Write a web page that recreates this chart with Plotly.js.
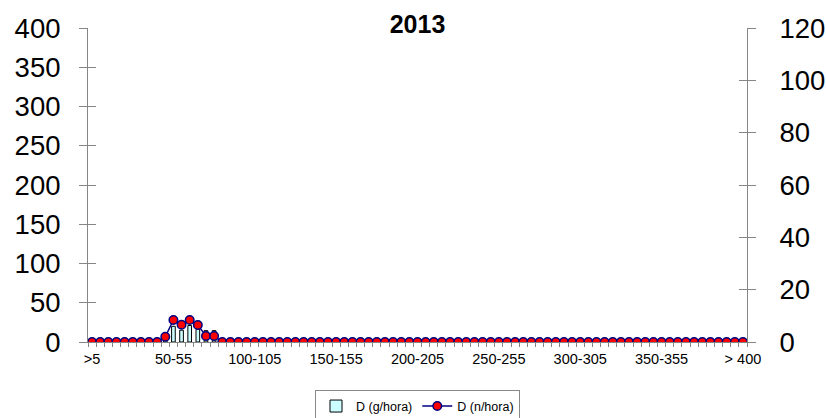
<!DOCTYPE html>
<html>
<head>
<meta charset="utf-8">
<script src="https://cdn.plot.ly/plotly-3.0.1.min.js"></script>
<style>html,body{margin:0;padding:0;background:#fff;}#chart{width:826px;height:418px;}</style>
</head>
<body>
<div id="chart"></div>
<script>
var categories = [">5","5-10","10-15","15-20","20-25","25-30","30-35","35-40","40-45","45-50",
"50-55","55-60","60-65","65-70","70-75","75-80","80-85","85-90","90-95","95-100",
"100-105","105-110","110-115","115-120","120-125","125-130","130-135","135-140","140-145","145-150",
"150-155","155-160","160-165","165-170","170-175","175-180","180-185","185-190","190-195","195-200",
"200-205","205-210","210-215","215-220","220-225","225-230","230-235","235-240","240-245","245-250",
"250-255","255-260","260-265","265-270","270-275","275-280","280-285","285-290","290-295","295-300",
"300-305","305-310","310-315","315-320","320-325","325-330","330-335","335-340","340-345","345-350",
"350-355","355-360","360-365","365-370","370-375","375-380","380-385","385-390","390-395","395-400",
"> 400"];

var gHora = [0,0,0,0,0,0,0,0,0,5,
20,15,21,16,14.5,14.5,0,0,0,0,
0,0,0,0,0,0,0,0,0,0,
0,0,0,0,0,0,0,0,0,0,
0,0,0,0,0,0,0,0,0,0,
0,0,0,0,0,0,0,0,0,0,
0,0,0,0,0,0,0,0,0,0,
0,0,0,0,0,0,0,0,0,0,
0];

var nHora = [0,0,0,0,0,0,0,0,0,2,
8.4,6.6,8.4,6.5,2.3,2.3,0,0,0,0,
0,0,0,0,0,0,0,0,0,0,
0,0,0,0,0,0,0,0,0,0,
0,0,0,0,0,0,0,0,0,0,
0,0,0,0,0,0,0,0,0,0,
0,0,0,0,0,0,0,0,0,0,
0,0,0,0,0,0,0,0,0,0,
0];

var shownLabels = [">5","50-55","100-105","150-155","200-205","250-255","300-305","350-355","> 400"];
var seriesNames = ["D (g/hora)", "D (n/hora)"];
var titleText = "2013";

var tickText = categories.map(function(c){ return shownLabels.indexOf(c) >= 0 ? c : ""; });
var FONT = "Liberation Sans, Arial, sans-serif";
var AX = "#868686";

var traces = [
  {
    type: "bar", x: categories, y: gHora, name: seriesNames[0], yaxis: "y",
    marker: {color: "#CCFFFF", line: {color: "#000000", width: 1}},
    hoverinfo: "skip"
  },
  {
    type: "scatter", mode: "lines+markers", x: categories, y: nHora, name: seriesNames[1], yaxis: "y2",
    line: {color: "#000080", width: 1.5},
    marker: {color: "#FF0000", size: 8.5, line: {color: "#000080", width: 1.5}},
    hoverinfo: "skip"
  },
  /* empty helper traces so the inner tick axes are drawn */
  {type: "scatter", mode: "markers", x: [categories[0]], y: [null], yaxis: "y3", showlegend: false, hoverinfo: "skip"},
  {type: "scatter", mode: "markers", x: [categories[0]], y: [null], yaxis: "y4", showlegend: false, hoverinfo: "skip"}
];

var layout = {
  width: 826, height: 418,
  margin: {l: 88, r: 79, t: 28, b: 76, pad: 0, autoexpand: false},
  paper_bgcolor: "#ffffff", plot_bgcolor: "rgba(0,0,0,0)",
  font: {family: FONT, color: "#000000"},
  showlegend: true,
  bargap: 0.55,
  title: {text: "<b>" + titleText + "</b>", font: {family: FONT, size: 25, color: "#000"},
          xref: "paper", x: 0.5, xanchor: "center", yref: "container", y: 0.943, yanchor: "middle"},
  xaxis: {
    type: "category", range: [-0.5, 80.5],
    tickmode: "array", tickvals: categories, ticktext: tickText,
    tickson: "boundaries", ticks: "outside", ticklen: 4, tickcolor: AX, tickwidth: 1,
    showline: true, linecolor: AX, linewidth: 1, showgrid: false, zeroline: false,
    ticklabelstandoff: 4,
    tickangle: 0, tickfont: {family: FONT, size: 14.5, color: "#000"}
  },
  yaxis: {
    range: [0, 400], tickmode: "linear", tick0: 0, dtick: 50,
    ticks: "outside", ticklen: 8, tickcolor: AX, tickwidth: 1,
    showline: true, linecolor: AX, linewidth: 1, showgrid: false, zeroline: false,
    ticklabelstandoff: 13, tickfont: {family: FONT, size: 27.5, color: "#000"}
  },
  yaxis2: {
    overlaying: "y", side: "right", anchor: "x",
    range: [0, 120], tickmode: "linear", tick0: 0, dtick: 20,
    ticks: "outside", ticklen: 8, tickcolor: AX, tickwidth: 1,
    showline: true, linecolor: AX, linewidth: 1, showgrid: false, zeroline: false,
    ticklabelstandoff: 18, tickfont: {family: FONT, size: 27.5, color: "#000"}
  },
  yaxis3: {
    overlaying: "y", side: "left", anchor: "x",
    range: [0, 400], tickmode: "linear", tick0: 0, dtick: 50,
    ticks: "inside", ticklen: 8, tickcolor: AX, tickwidth: 1,
    showticklabels: false, showline: false, showgrid: false, zeroline: false
  },
  yaxis4: {
    overlaying: "y", side: "right", anchor: "x",
    range: [0, 120], tickmode: "linear", tick0: 0, dtick: 20,
    ticks: "inside", ticklen: 8, tickcolor: AX, tickwidth: 1,
    showticklabels: false, showline: false, showgrid: false, zeroline: false
  },
  legend: {
    orientation: "h", xref: "paper", x: 0.5, xanchor: "center",
    yref: "container", y: 0.066, yanchor: "top",
    bordercolor: "#888888", borderwidth: 1, bgcolor: "#ffffff",
    font: {family: FONT, size: 12.5, color: "#000"},
    traceorder: "normal"
  }
};

Plotly.newPlot("chart", traces, layout, {displayModeBar: false, staticPlot: true});
</script>
</body>
</html>
